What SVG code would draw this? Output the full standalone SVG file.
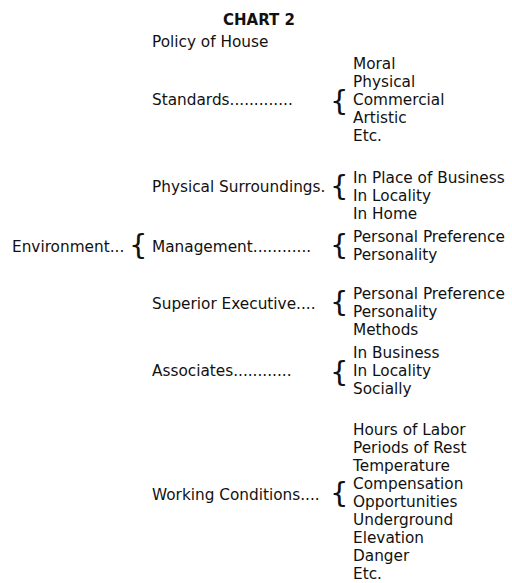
<svg xmlns="http://www.w3.org/2000/svg" width="512" height="583" viewBox="0 0 512 583">
<style>
text{font-family:"DejaVu Sans",sans-serif;font-size:15.3px;fill:#111}
.t{font-weight:bold;text-anchor:middle;font-size:15px}
.b{font-size:29px}
</style>
<rect width="512" height="583" fill="#fff"/>
<text class="t" x="259" y="25">CHART 2</text>
<g id="root"><text x="12" y="252">Environment...</text><text class="b" x="129" y="255">{</text></g>
<g id="policy"><text x="152" y="47">Policy of House</text></g>
<g id="standards">
<text x="152" y="105">Standards.............</text>
<text class="b" x="330" y="111">{</text>
<text x="353" y="69">Moral</text><text x="353" y="87">Physical</text><text x="353" y="105">Commercial</text><text x="353" y="123">Artistic</text><text x="353" y="141">Etc.</text>
</g>
<g id="physical">
<text x="152" y="192">Physical Surroundings.</text>
<text class="b" x="330" y="196">{</text>
<text x="353" y="183">In Place of Business</text><text x="353" y="201">In Locality</text><text x="353" y="219">In Home</text>
</g>
<g id="management">
<text x="152" y="252">Management............</text>
<text class="b" x="330" y="255">{</text>
<text x="353" y="242">Personal Preference</text><text x="353" y="260">Personality</text>
</g>
<g id="superior">
<text x="152" y="309">Superior Executive....</text>
<text class="b" x="330" y="312">{</text>
<text x="353" y="299">Personal Preference</text><text x="353" y="317">Personality</text><text x="353" y="335">Methods</text>
</g>
<g id="associates">
<text x="152" y="376">Associates............</text>
<text class="b" x="330" y="382">{</text>
<text x="353" y="358">In Business</text><text x="353" y="376">In Locality</text><text x="353" y="394">Socially</text>
</g>
<g id="working">
<text x="152" y="500">Working Conditions....</text>
<text class="b" x="330" y="503">{</text>
<text x="353" y="435">Hours of Labor</text><text x="353" y="453">Periods of Rest</text><text x="353" y="471">Temperature</text><text x="353" y="489">Compensation</text><text x="353" y="507">Opportunities</text><text x="353" y="525">Underground</text><text x="353" y="543">Elevation</text><text x="353" y="561">Danger</text><text x="353" y="579">Etc.</text>
</g>
<g id="connectors"></g>
</svg>
